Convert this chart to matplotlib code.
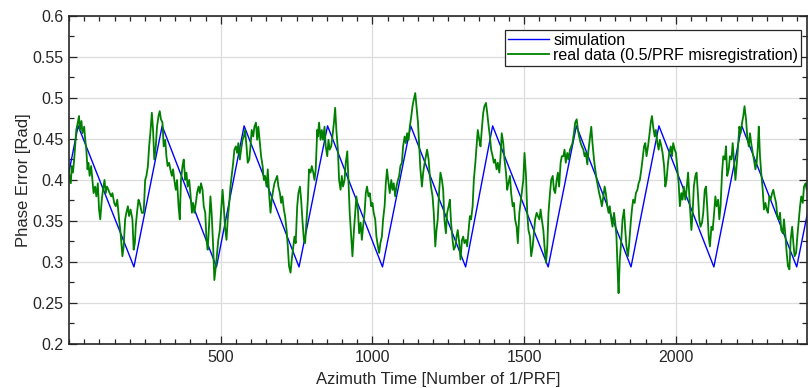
"""
Phase error along azimuth: simulated sawtooth vs. measured phase error
(0.5/PRF misregistration).
"""
import matplotlib
matplotlib.use("Agg")
from matplotlib import pyplot as plt
from matplotlib.ticker import MultipleLocator

plt.rcParams['font.family'] = ['Liberation Sans', 'DejaVu Sans']

# simulated phase error (vertices of the sawtooth)
sim_x = [0, 30, 214, 307, 486, 577, 758, 852, 1033, 1126, 1307, 1396,
         1579, 1672, 1852, 1944, 2125, 2217, 2398, 2432]
sim_y = [0.410, 0.466, 0.294, 0.466, 0.294, 0.466, 0.294, 0.466, 0.294,
         0.466, 0.294, 0.466, 0.294, 0.466, 0.294, 0.466, 0.294, 0.466,
         0.294, 0.357]

real_0_400 = [
    (0, 0.408), (2, 0.404), (6, 0.396), (9, 0.417), (13, 0.409), (17, 0.425),
    (20, 0.441), (24, 0.461), (29, 0.470), (33, 0.478), (36, 0.461),
    (41, 0.472), (44, 0.457), (50, 0.465), (53, 0.451), (57, 0.437),
    (61, 0.413), (64, 0.421), (68, 0.405), (73, 0.417), (77, 0.400),
    (81, 0.384), (86, 0.392), (90, 0.380), (95, 0.396), (99, 0.364),
    (103, 0.352), (108, 0.376), (112, 0.388), (117, 0.400), (121, 0.384),
    (125, 0.392), (130, 0.388), (134, 0.384), (139, 0.380), (143, 0.384),
    (149, 0.372), (154, 0.368), (159, 0.376), (165, 0.352), (170, 0.335),
    (176, 0.307), (180, 0.319), (185, 0.352), (189, 0.360), (194, 0.368),
    (198, 0.356), (203, 0.364), (209, 0.352), (213, 0.315), (217, 0.323),
    (220, 0.344), (224, 0.360), (229, 0.376), (233, 0.372), (240, 0.360),
    (246, 0.360), (251, 0.400), (255, 0.405), (260, 0.417), (264, 0.441),
    (268, 0.457), (273, 0.482), (277, 0.461), (281, 0.425), (286, 0.441),
    (290, 0.465), (295, 0.478), (299, 0.484), (303, 0.474), (308, 0.470),
    (312, 0.441), (317, 0.449), (321, 0.429), (325, 0.417), (330, 0.421),
    (334, 0.413), (339, 0.405), (343, 0.413), (347, 0.400), (352, 0.388),
    (356, 0.400), (361, 0.368), (365, 0.352), (369, 0.400), (374, 0.417),
    (378, 0.425), (383, 0.400), (387, 0.409), (391, 0.392), (396, 0.400),
    (400, 0.384), (405, 0.360), (409, 0.372),
]
real_400_820 = [
    (413, 0.360), (418, 0.372), (422, 0.384), (427, 0.392), (431, 0.384),
    (435, 0.396), (440, 0.388), (444, 0.368), (449, 0.360), (453, 0.327),
    (457, 0.315), (462, 0.348), (466, 0.380), (470, 0.360), (475, 0.319),
    (479, 0.278), (484, 0.295), (488, 0.311), (492, 0.327), (497, 0.339),
    (501, 0.360), (506, 0.388), (510, 0.368), (514, 0.343), (519, 0.327),
    (523, 0.352), (528, 0.372), (532, 0.392), (536, 0.405), (541, 0.421),
    (545, 0.437), (550, 0.441), (554, 0.433), (558, 0.445), (563, 0.425),
    (567, 0.437), (572, 0.449), (576, 0.453), (580, 0.461), (585, 0.441),
    (589, 0.421), (594, 0.425), (598, 0.441), (602, 0.461), (607, 0.453),
    (611, 0.465), (616, 0.470), (620, 0.449), (624, 0.465), (629, 0.445),
    (633, 0.429), (638, 0.417), (642, 0.400), (646, 0.405), (651, 0.392),
    (655, 0.413), (660, 0.380), (664, 0.360), (668, 0.376), (673, 0.388),
    (677, 0.396), (681, 0.400), (686, 0.405), (690, 0.392), (695, 0.384),
    (699, 0.372), (703, 0.380), (708, 0.364), (712, 0.356), (717, 0.339),
    (721, 0.319), (725, 0.295), (730, 0.287), (734, 0.303), (739, 0.319),
    (743, 0.331), (747, 0.323), (752, 0.368), (756, 0.384), (761, 0.392),
    (765, 0.376), (769, 0.352), (774, 0.327), (778, 0.323), (783, 0.352),
    (787, 0.376), (791, 0.413), (796, 0.409), (800, 0.417), (805, 0.409),
    (809, 0.400), (813, 0.413), (818, 0.461),
]
real_820_1225 = [
    (820, 0.453), (824, 0.470), (829, 0.449), (833, 0.461), (837, 0.449),
    (842, 0.465), (846, 0.441), (851, 0.429), (855, 0.449), (859, 0.437),
    (864, 0.441), (868, 0.453), (873, 0.470), (877, 0.488), (881, 0.461),
    (886, 0.437), (890, 0.400), (895, 0.388), (899, 0.405), (903, 0.392),
    (908, 0.400), (912, 0.421), (917, 0.435), (921, 0.396), (925, 0.360),
    (930, 0.331), (934, 0.307), (939, 0.339), (943, 0.360), (947, 0.380),
    (952, 0.364), (956, 0.335), (961, 0.348), (965, 0.327), (969, 0.343),
    (974, 0.360), (978, 0.384), (982, 0.392), (987, 0.380), (991, 0.384),
    (996, 0.368), (1000, 0.372), (1004, 0.360), (1009, 0.352), (1013, 0.331),
    (1018, 0.319), (1022, 0.311), (1026, 0.323), (1031, 0.331), (1035, 0.352),
    (1040, 0.368), (1044, 0.396), (1048, 0.413), (1053, 0.396), (1057, 0.384),
    (1062, 0.400), (1066, 0.388), (1070, 0.396), (1075, 0.380), (1079, 0.392),
    (1084, 0.400), (1088, 0.405), (1092, 0.417), (1097, 0.421), (1101, 0.441),
    (1106, 0.453), (1110, 0.445), (1114, 0.457), (1119, 0.449), (1123, 0.465),
    (1128, 0.478), (1132, 0.490), (1136, 0.498), (1141, 0.506), (1145, 0.490),
    (1150, 0.470), (1154, 0.441), (1158, 0.413), (1163, 0.392), (1167, 0.409),
    (1172, 0.421), (1176, 0.429), (1180, 0.437), (1185, 0.425), (1189, 0.405),
    (1193, 0.392), (1198, 0.380), (1202, 0.360), (1207, 0.319), (1211, 0.339),
    (1215, 0.352), (1220, 0.388), (1224, 0.409),
]
real_1225_1635 = [
    (1229, 0.400), (1233, 0.388), (1237, 0.352), (1242, 0.335), (1246, 0.360),
    (1251, 0.368), (1255, 0.376), (1259, 0.348), (1264, 0.327), (1268, 0.315),
    (1273, 0.319), (1277, 0.331), (1281, 0.339), (1286, 0.323), (1290, 0.303),
    (1295, 0.327), (1299, 0.331), (1303, 0.323), (1308, 0.327), (1312, 0.319),
    (1317, 0.339), (1321, 0.356), (1325, 0.352), (1330, 0.368), (1334, 0.400),
    (1339, 0.421), (1343, 0.441), (1347, 0.461), (1352, 0.449), (1356, 0.441),
    (1361, 0.465), (1365, 0.482), (1369, 0.490), (1374, 0.494), (1378, 0.482),
    (1383, 0.465), (1387, 0.453), (1391, 0.437), (1396, 0.429), (1400, 0.421),
    (1404, 0.425), (1409, 0.413), (1413, 0.421), (1418, 0.409), (1422, 0.429),
    (1426, 0.457), (1431, 0.445), (1435, 0.425), (1440, 0.409), (1444, 0.388),
    (1448, 0.396), (1453, 0.405), (1457, 0.384), (1462, 0.368), (1466, 0.372),
    (1470, 0.352), (1475, 0.343), (1479, 0.323), (1484, 0.360), (1488, 0.372),
    (1492, 0.384), (1497, 0.400), (1501, 0.433), (1506, 0.405), (1510, 0.360),
    (1514, 0.339), (1519, 0.331), (1523, 0.307), (1528, 0.319), (1532, 0.335),
    (1536, 0.352), (1541, 0.360), (1545, 0.356), (1550, 0.352), (1554, 0.364),
    (1558, 0.352), (1563, 0.339), (1567, 0.319), (1572, 0.299), (1576, 0.319),
    (1580, 0.360), (1585, 0.384), (1589, 0.400), (1594, 0.405), (1598, 0.388),
    (1602, 0.384), (1607, 0.400), (1611, 0.409), (1615, 0.392), (1620, 0.421),
    (1624, 0.429), (1629, 0.429), (1633, 0.437),
]
real_1635_2045 = [
    (1637, 0.421), (1642, 0.433), (1646, 0.425), (1651, 0.437), (1655, 0.441),
    (1659, 0.445), (1664, 0.457), (1668, 0.470), (1673, 0.474), (1677, 0.461),
    (1681, 0.453), (1686, 0.445), (1690, 0.441), (1695, 0.437), (1699, 0.429),
    (1703, 0.433), (1708, 0.419), (1712, 0.437), (1717, 0.453), (1721, 0.465),
    (1725, 0.445), (1730, 0.425), (1734, 0.413), (1739, 0.400), (1743, 0.392),
    (1747, 0.384), (1752, 0.376), (1756, 0.368), (1761, 0.380), (1765, 0.392),
    (1769, 0.384), (1774, 0.368), (1778, 0.360), (1782, 0.368), (1787, 0.352),
    (1791, 0.343), (1796, 0.360), (1800, 0.348), (1804, 0.331), (1809, 0.278),
    (1811, 0.262), (1815, 0.303), (1820, 0.327), (1824, 0.352), (1829, 0.364),
    (1833, 0.339), (1837, 0.319), (1842, 0.307), (1846, 0.323), (1851, 0.348),
    (1855, 0.364), (1859, 0.376), (1864, 0.372), (1868, 0.384), (1873, 0.388),
    (1877, 0.396), (1881, 0.400), (1886, 0.413), (1890, 0.425), (1895, 0.441),
    (1899, 0.445), (1903, 0.429), (1908, 0.441), (1912, 0.453), (1917, 0.470),
    (1921, 0.478), (1925, 0.465), (1930, 0.453), (1934, 0.461), (1939, 0.445),
    (1943, 0.437), (1947, 0.449), (1952, 0.441), (1956, 0.433), (1961, 0.417),
    (1965, 0.392), (1969, 0.400), (1974, 0.421), (1978, 0.433), (1983, 0.441),
    (1987, 0.429), (1991, 0.445), (1996, 0.437), (2000, 0.433), (2005, 0.413),
    (2009, 0.396), (2013, 0.368), (2018, 0.384), (2022, 0.376), (2026, 0.392),
    (2031, 0.376), (2035, 0.388), (2040, 0.409), (2044, 0.380),
]
real_2045_2434 = [
    (2046, 0.368), (2051, 0.339), (2055, 0.360), (2059, 0.392), (2064, 0.405),
    (2068, 0.409), (2073, 0.380), (2077, 0.352), (2081, 0.343), (2086, 0.348),
    (2090, 0.360), (2095, 0.388), (2099, 0.392), (2103, 0.368), (2108, 0.331),
    (2112, 0.319), (2117, 0.343), (2121, 0.339), (2125, 0.356), (2130, 0.380),
    (2134, 0.368), (2139, 0.376), (2143, 0.352), (2147, 0.368), (2152, 0.409),
    (2156, 0.429), (2161, 0.425), (2165, 0.441), (2169, 0.405), (2174, 0.413),
    (2178, 0.429), (2183, 0.425), (2187, 0.445), (2191, 0.425), (2196, 0.400),
    (2200, 0.417), (2204, 0.437), (2209, 0.465), (2213, 0.457), (2218, 0.470),
    (2222, 0.478), (2226, 0.490), (2231, 0.474), (2235, 0.453), (2240, 0.441),
    (2244, 0.457), (2248, 0.445), (2253, 0.433), (2257, 0.425), (2262, 0.413),
    (2266, 0.421), (2270, 0.441), (2273, 0.465), (2277, 0.429), (2281, 0.409),
    (2286, 0.388), (2290, 0.364), (2295, 0.372), (2299, 0.364), (2303, 0.360),
    (2308, 0.380), (2312, 0.376), (2317, 0.384), (2321, 0.388), (2325, 0.380),
    (2330, 0.372), (2334, 0.356), (2339, 0.352), (2343, 0.360), (2347, 0.339),
    (2352, 0.335), (2356, 0.352), (2361, 0.331), (2365, 0.311), (2369, 0.295),
    (2374, 0.291), (2378, 0.327), (2383, 0.343), (2387, 0.323), (2391, 0.307),
    (2396, 0.311), (2400, 0.331), (2405, 0.352), (2409, 0.368), (2413, 0.380),
    (2418, 0.372), (2422, 0.392), (2427, 0.396), (2431, 0.388), (2434, 0.396),
]

real_data = (real_0_400 + real_400_820 + real_820_1225 + real_1225_1635
             + real_1635_2045 + real_2045_2434)
real_x = [p[0] for p in real_data]
real_y = [p[1] for p in real_data]

x_ticks = [500, 1000, 1500, 2000]
y_ticks = [0.2, 0.25, 0.3, 0.35, 0.4, 0.45, 0.5, 0.55, 0.6]
y_ticklabels = ['0.2', '0.25', '0.3', '0.35', '0.4', '0.45', '0.5', '0.55',
                '0.6']

tick_color = '#262626'

fig = plt.figure(figsize=(8.08, 3.88), dpi=100)
ax = fig.add_axes([0.0854, 0.1134, 0.9134, 0.8454])

ax.plot(sim_x, sim_y, color='blue', lw=1.0, label='simulation')
ax.plot(real_x, real_y, color='#008000', lw=1.3,
        label='real data (0.5/PRF misregistration)')

ax.set_xlim(0, 2432)
ax.set_ylim(0.2, 0.6)
ax.set_xticks(x_ticks)
ax.xaxis.set_minor_locator(MultipleLocator(50))
ax.set_yticks(y_ticks)
ax.set_yticklabels(y_ticklabels)
ax.yaxis.set_minor_locator(MultipleLocator(0.025))

ax.grid(True, which='major', color='#dcdcdc', lw=0.9)
ax.set_axisbelow(True)
ax.tick_params(which='both', direction='in', top=True, right=True,
               colors=tick_color, labelsize=11.5, width=0.9)
ax.tick_params(which='major', length=6, pad=4)
ax.tick_params(which='minor', length=3.5)
for side in ['left', 'bottom', 'top', 'right']:
    ax.spines[side].set_color(tick_color)
    ax.spines[side].set_linewidth(1.2)

ax.set_xlabel('Azimuth Time [Number of 1/PRF]', fontsize=12,
              color=tick_color, labelpad=5)
ax.set_ylabel('Phase Error [Rad]', fontsize=12, color=tick_color,
              labelpad=1)

leg = ax.legend(loc='upper right', bbox_to_anchor=(0.9919, 0.9573),
                fontsize=11.5, frameon=True, fancybox=False, borderpad=0.18,
                handlelength=2.6, handletextpad=0.25, labelspacing=0.0,
                borderaxespad=0.0)
leg.get_frame().set_edgecolor(tick_color)
leg.get_frame().set_linewidth(0.9)
leg.get_frame().set_alpha(1.0)

fig.savefig('out.png', dpi=100)
